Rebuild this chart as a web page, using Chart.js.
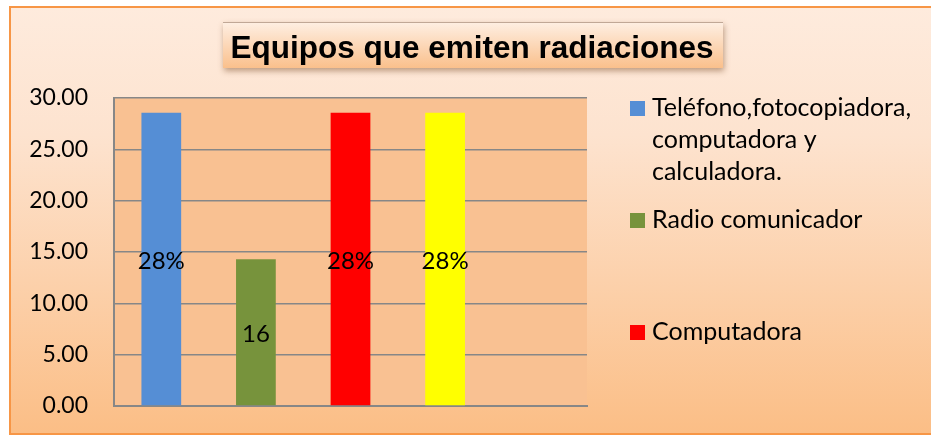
<!DOCTYPE html>
<html>
<head>
<meta charset="utf-8">
<script src="https://cdn.jsdelivr.net/npm/chart.js@4/dist/chart.umd.min.js"></script>
<style>
  body { margin: 0; background: #fff; }
  .frame {
    position: absolute; left: 9px; top: 6px; width: 930px; height: 425px;
    border: 2px solid #F79646; border-right: none;
    background: linear-gradient(#FEEBDD 0%, #FDE3CF 30%, #FBBE86 100%);
  }
  #myChart { position: absolute; left: 0; top: 0; }
</style>
</head>
<body>
<div class="frame"></div>
<canvas id="myChart" width="931" height="435"></canvas>
<script>
// chart data
const chartTitle = 'Equipos que emiten radiaciones';
const categories = ['Teléfono,fotocopiadora, computadora y calculadora.', 'Radio comunicador', 'Computadora', '', ''];
const values = [28.57, 14.29, 28.57, 28.57, null];
const valueLabels = ['28%', '16', '28%', '28%', ''];
const barColors = ['#558ED5', '#77933C', '#FF0000', '#FFFF00', 'rgba(0,0,0,0)'];
const legendLines = [
  ['Teléfono,fotocopiadora,', 'computadora y', 'calculadora.'],
  ['Radio comunicador'],
  ['Computadora'],
];
const yMin = 0;
const yMax = 30;
const yStep = 5;

const BODY_FONT = 'Lato, "Open Sans", sans-serif';

const plotBackground = {
  id: 'plotBackground',
  beforeDraw(chart) {
    const { ctx, chartArea } = chart;
    ctx.save();
    ctx.fillStyle = '#F9C192';
    ctx.fillRect(chartArea.left, chartArea.top, chartArea.right - chartArea.left, chartArea.bottom - chartArea.top);
    ctx.restore();
  },
};

// value labels in the middle of each bar
const barLabels = {
  id: 'barLabels',
  afterDatasetsDraw(chart) {
    const { ctx } = chart;
    const meta = chart.getDatasetMeta(0);
    ctx.save();
    ctx.font = '24px ' + BODY_FONT;
    ctx.fillStyle = '#000';
    ctx.textAlign = 'center';
    ctx.textBaseline = 'middle';
    meta.data.forEach((bar, i) => {
      if (!valueLabels[i]) return;
      ctx.fillText(valueLabels[i], bar.x, (bar.y + bar.base) / 2 + 2);
    });
    ctx.restore();
  },
};

// title box + legend drawn on the canvas
const decorations = {
  id: 'decorations',
  afterDraw(chart) {
    const { ctx } = chart;
    ctx.save();
    // title box
    const grad = ctx.createLinearGradient(0, 22, 0, 68);
    grad.addColorStop(0, '#FEEFE3');
    grad.addColorStop(1, '#FAC08C');
    ctx.shadowColor = 'rgba(110,60,20,0.45)';
    ctx.shadowBlur = 6;
    ctx.shadowOffsetX = 1;
    ctx.shadowOffsetY = 3;
    ctx.fillStyle = grad;
    ctx.fillRect(223, 22, 500, 46);
    ctx.shadowColor = 'transparent';
    ctx.strokeStyle = 'rgba(150,120,100,0.6)';
    ctx.lineWidth = 1;
    ctx.beginPath();
    ctx.moveTo(223, 22.5);
    ctx.lineTo(723, 22.5);
    ctx.stroke();
    ctx.font = 'bold 31.5px "Liberation Sans", Arial, sans-serif';
    ctx.fillStyle = '#000';
    ctx.textAlign = 'center';
    ctx.textBaseline = 'alphabetic';
    ctx.fillText(chartTitle, 472, 58);

    // legend
    ctx.font = '25px ' + BODY_FONT;
    ctx.textAlign = 'left';
    ctx.textBaseline = 'middle';
    legendLines.forEach((lines, i) => {
      const y0 = 108 + i * 112;
      ctx.fillStyle = barColors[i];
      ctx.fillRect(630, y0 - 7, 15, 15);
      ctx.fillStyle = '#000';
      lines.forEach((line, j) => {
        ctx.fillText(line, 652, y0 + j * 32);
      });
    });
    ctx.restore();
  },
};

const ctx = document.getElementById('myChart').getContext('2d');

const myChart = new Chart(ctx, {
  type: 'bar',
  data: {
    labels: categories,
    datasets: [
      {
        data: values,
        backgroundColor: barColors,
        borderWidth: 0,
        categoryPercentage: 1,
        barPercentage: 0.42,
      },
    ],
  },
  options: {
    responsive: false,
    devicePixelRatio: 1,
    animation: false,
    layout: { padding: { left: 0, right: 344, top: 98, bottom: 29 } },
    plugins: {
      legend: { display: false },
      title: { display: false },
      tooltip: { enabled: false },
    },
    scales: {
      x: {
        grid: { display: false },
        ticks: { display: false },
        border: { color: '#878787', width: 2 },
        afterFit: (scale) => { scale.height = 0; },
      },
      y: {
        min: yMin,
        max: yMax,
        ticks: {
          stepSize: yStep,
          padding: 26,
          color: '#000',
          font: { family: BODY_FONT, size: 23 },
          callback: (v) => v.toFixed(2),
        },
        grid: { color: '#878787', lineWidth: 1.5, drawTicks: false },
        border: { color: '#878787', width: 2 },
        afterFit: (scale) => {
          scale.width = 114;
          // tick padding would otherwise push the plot bottom up
          scale.paddingTop = 0;
          scale.paddingBottom = 0;
        },
      },
    },
  },
  plugins: [plotBackground, barLabels, decorations],
});
</script>
</body>
</html>
